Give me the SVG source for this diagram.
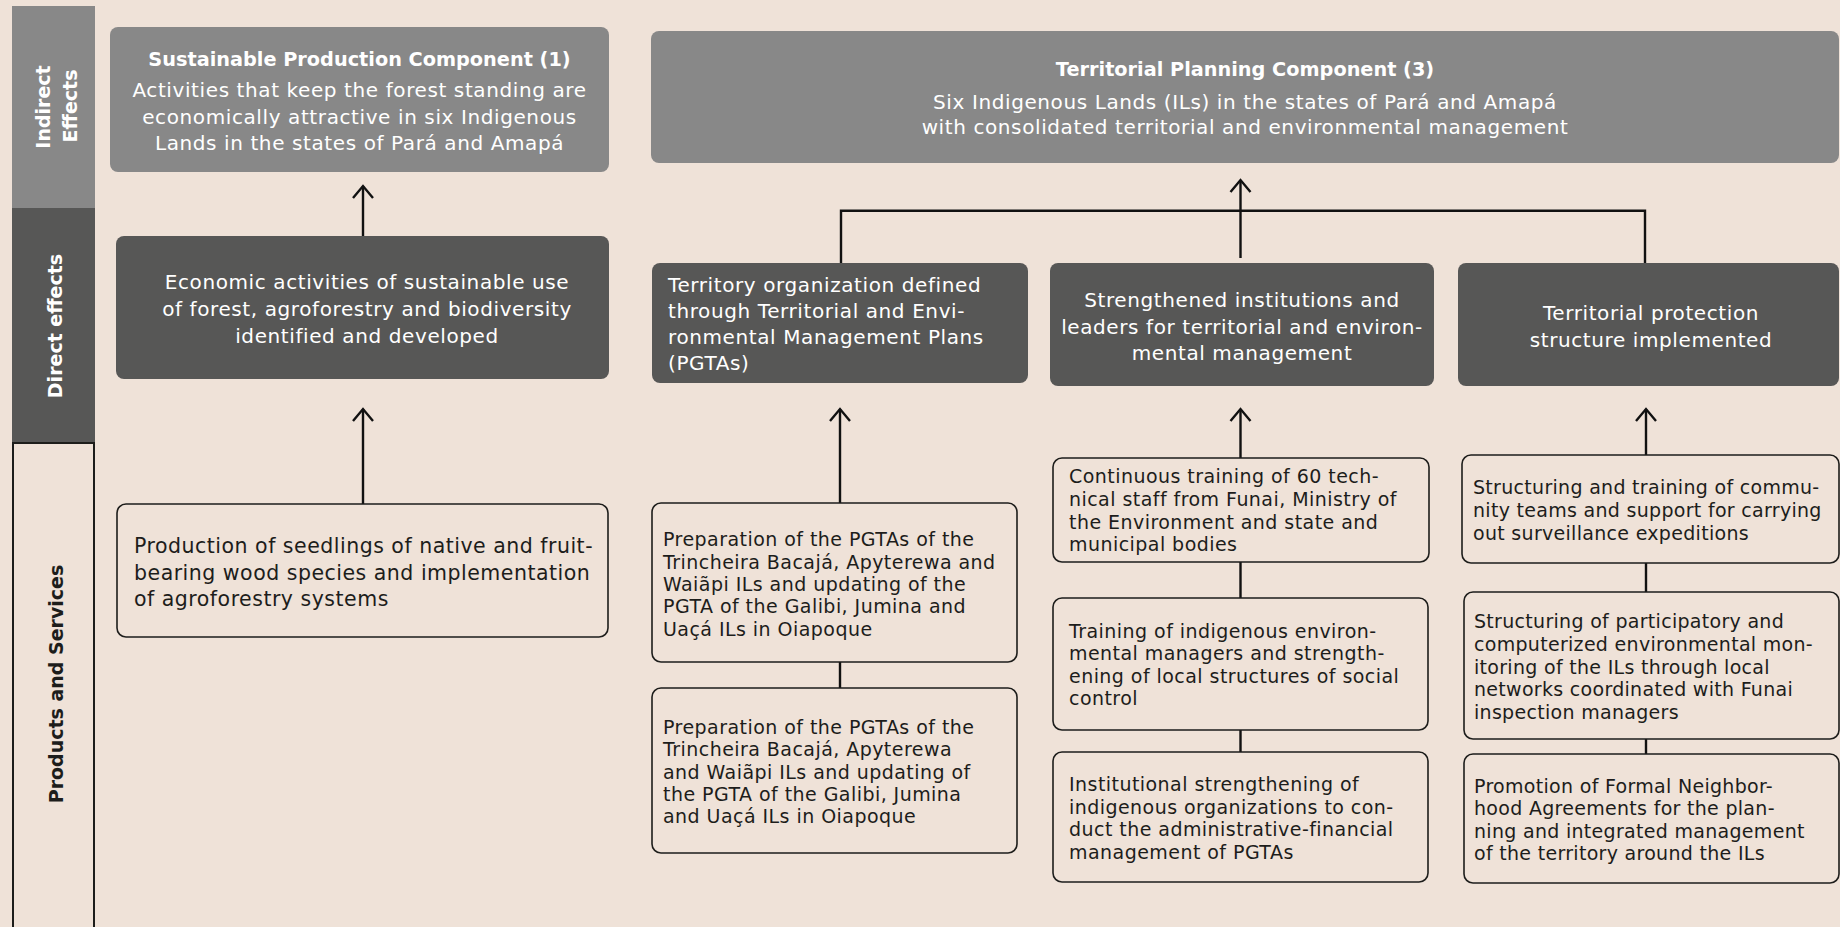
<svg xmlns="http://www.w3.org/2000/svg" width="1840" height="927" viewBox="0 0 1840 927">
  <style>
    .bg { fill: #efe2d8; }
    .light { fill: #888888; }
    .dark { fill: #575756; }
    .out { fill: #efe2d8; stroke: #1d1d1b; stroke-width: 1.6; }
    .band-label { font-family: "DejaVu Sans", sans-serif; font-weight: bold; font-size: 19px; text-anchor: middle; }
    .title { font-family: "DejaVu Sans", sans-serif; font-weight: bold; font-size: 19.3px; fill: #ffffff; text-anchor: middle; }
    .big { font-family: "DejaVu Sans", sans-serif; font-size: 20px; fill: #ffffff; letter-spacing: 0.6px; }
    .mid { text-anchor: middle; }
    .small { font-family: "DejaVu Sans", sans-serif; font-size: 19px; fill: #1d1d1b; letter-spacing: 0.45px; }
    .tight { letter-spacing: 0.3px; }
    .large { font-family: "DejaVu Sans", sans-serif; font-size: 20.5px; fill: #1d1d1b; letter-spacing: 0.5px; }
    .wire { fill: none; stroke: #111111; stroke-width: 2.4; }
    .arrow { fill: none; stroke: #111111; stroke-width: 2.4; marker-end: url(#head); }
  </style>
  <defs>
    <marker id="head" markerUnits="userSpaceOnUse" markerWidth="30" markerHeight="30" viewBox="-16 -15 20 30" refX="0" refY="0" orient="auto">
      <path d="M -12 -10 L 0 0 L -12 10" fill="none" stroke="#111111" stroke-width="2.4"/>
    </marker>
  </defs>

  <rect class="bg" x="0" y="0" width="1840" height="927"/>

  <!-- Row bands on the left -->
  <g id="band-indirect">
    <rect class="light" x="12" y="6" width="83" height="202"/>
    <text class="band-label" fill="#ffffff" transform="translate(50,107) rotate(-90)">Indirect</text>
    <text class="band-label" fill="#ffffff" transform="translate(77,106) rotate(-90)">Effects</text>
  </g>
  <g id="band-direct">
    <rect class="dark" x="12" y="208" width="83" height="235"/>
    <text class="band-label" fill="#ffffff" transform="translate(62,326) rotate(-90)">Direct effects</text>
  </g>
  <g id="band-products">
    <rect x="13" y="443" width="81" height="500" fill="none" stroke="#1d1d1b" stroke-width="2"/>
    <text class="band-label" fill="#1d1d1b" transform="translate(63,684) rotate(-90)">Products and Services</text>
  </g>

  <!-- Connectors -->
  <g id="connectors">
    <line class="arrow" x1="363" y1="236" x2="363" y2="186"/>
    <line class="arrow" x1="363" y1="504" x2="363" y2="409"/>
    <path class="wire" d="M 841 263 V 210.7 H 1645 V 263"/>
    <line class="arrow" x1="1240.5" y1="258" x2="1240.5" y2="180"/>
    <line class="arrow" x1="840" y1="503" x2="840" y2="409"/>
    <line class="arrow" x1="1240.5" y1="458" x2="1240.5" y2="409"/>
    <line class="arrow" x1="1646" y1="455" x2="1646" y2="409"/>
    <line class="wire" x1="840" y1="662" x2="840" y2="688"/>
    <line class="wire" x1="1240.5" y1="562" x2="1240.5" y2="598"/>
    <line class="wire" x1="1240.5" y1="730" x2="1240.5" y2="752"/>
    <line class="wire" x1="1646" y1="563" x2="1646" y2="592"/>
    <line class="wire" x1="1646" y1="739" x2="1646" y2="754"/>
  </g>

  <!-- Indirect effects -->
  <g id="sustainable-production">
    <rect class="light" x="110" y="27" width="499" height="145" rx="8"/>
    <text class="title" x="359.5" y="65.5">Sustainable Production Component (1)</text>
    <text class="big mid" x="359.5" y="97">Activities that keep the forest standing are</text>
    <text class="big mid" x="359.5" y="123.5">economically attractive in six Indigenous</text>
    <text class="big mid" x="359.5" y="150">Lands in the states of Pará and Amapá</text>
  </g>
  <g id="territorial-planning">
    <rect class="light" x="651" y="31" width="1188" height="132" rx="8"/>
    <text class="title" x="1245" y="76">Territorial Planning Component (3)</text>
    <text class="big mid" x="1245" y="108.5">Six Indigenous Lands (ILs) in the states of Pará and Amapá</text>
    <text class="big mid" x="1245" y="133.5">with consolidated territorial and environmental management</text>
  </g>

  <!-- Direct effects -->
  <g id="economic-activities">
    <rect class="dark" x="116" y="236" width="493" height="143" rx="8"/>
    <text class="big mid" x="367" y="289">Economic activities of sustainable use</text>
    <text class="big mid" x="367" y="316">of forest, agroforestry and biodiversity</text>
    <text class="big mid" x="367" y="343">identified and developed</text>
  </g>
  <g id="territory-organization">
    <rect class="dark" x="652" y="263" width="376" height="120" rx="8"/>
    <text class="big" x="668" y="292">Territory organization defined</text>
    <text class="big" x="668" y="318">through Territorial and Envi-</text>
    <text class="big" x="668" y="344">ronmental Management Plans</text>
    <text class="big" x="668" y="370">(PGTAs)</text>
  </g>
  <g id="strengthened-institutions">
    <rect class="dark" x="1050" y="263" width="384" height="123" rx="8"/>
    <text class="big mid" x="1242" y="307">Strengthened institutions and</text>
    <text class="big mid" x="1242" y="333.5">leaders for territorial and environ-</text>
    <text class="big mid" x="1242" y="360">mental management</text>
  </g>
  <g id="territorial-protection">
    <rect class="dark" x="1458" y="263" width="381" height="123" rx="8"/>
    <text class="big mid" x="1651" y="320">Territorial protection</text>
    <text class="big mid" x="1651" y="347">structure implemented</text>
  </g>

  <!-- Products and services -->
  <g id="seedlings">
    <rect class="out" x="117" y="504" width="491" height="133" rx="9"/>
    <text class="large" x="134" y="553">Production of seedlings of native and fruit-</text>
    <text class="large" x="134" y="580">bearing wood species and implementation</text>
    <text class="large" x="134" y="606">of agroforestry systems</text>
  </g>
  <g id="pgta-preparation-1">
    <rect class="out" x="652" y="503" width="365" height="159" rx="9"/>
    <text class="small" x="663" y="546">Preparation of the PGTAs of the</text>
    <text class="small" x="663" y="568.5">Trincheira Bacajá, Apyterewa and</text>
    <text class="small" x="663" y="591">Waiãpi ILs and updating of the</text>
    <text class="small" x="663" y="613">PGTA of the Galibi, Jumina and</text>
    <text class="small" x="663" y="635.5">Uaçá ILs in Oiapoque</text>
  </g>
  <g id="pgta-preparation-2">
    <rect class="out" x="652" y="688" width="365" height="165" rx="9"/>
    <text class="small" x="663" y="734">Preparation of the PGTAs of the</text>
    <text class="small" x="663" y="756">Trincheira Bacajá, Apyterewa</text>
    <text class="small" x="663" y="778.5">and Waiãpi ILs and updating of</text>
    <text class="small" x="663" y="800.5">the PGTA of the Galibi, Jumina</text>
    <text class="small" x="663" y="823">and Uaçá ILs in Oiapoque</text>
  </g>
  <g id="continuous-training">
    <rect class="out" x="1053" y="458" width="376" height="104" rx="9"/>
    <text class="small" x="1069" y="483">Continuous training of 60 tech-</text>
    <text class="small" x="1069" y="506">nical staff from Funai, Ministry of</text>
    <text class="small" x="1069" y="528.5">the Environment and state and</text>
    <text class="small" x="1069" y="551">municipal bodies</text>
  </g>
  <g id="indigenous-managers">
    <rect class="out" x="1053" y="598" width="375" height="132" rx="9"/>
    <text class="small" x="1069" y="637.5">Training of indigenous environ-</text>
    <text class="small" x="1069" y="660">mental managers and strength-</text>
    <text class="small" x="1069" y="683">ening of local structures of social</text>
    <text class="small" x="1069" y="705">control</text>
  </g>
  <g id="institutional-strengthening">
    <rect class="out" x="1053" y="752" width="375" height="130" rx="9"/>
    <text class="small" x="1069" y="791">Institutional strengthening of</text>
    <text class="small" x="1069" y="813.5">indigenous organizations to con-</text>
    <text class="small" x="1069" y="836">duct the administrative-financial</text>
    <text class="small" x="1069" y="858.5">management of PGTAs</text>
  </g>
  <g id="community-teams">
    <rect class="out" x="1462" y="455" width="377" height="108" rx="9"/>
    <text class="small tight" x="1473" y="494">Structuring and training of commu-</text>
    <text class="small tight" x="1473" y="517">nity teams and support for carrying</text>
    <text class="small tight" x="1473" y="539.5">out surveillance expeditions</text>
  </g>
  <g id="environmental-monitoring">
    <rect class="out" x="1464" y="592" width="375" height="147" rx="9"/>
    <text class="small tight" x="1474" y="628">Structuring of participatory and</text>
    <text class="small tight" x="1474" y="651">computerized environmental mon-</text>
    <text class="small tight" x="1474" y="673.5">itoring of the ILs through local</text>
    <text class="small tight" x="1474" y="696">networks coordinated with Funai</text>
    <text class="small tight" x="1474" y="718.5">inspection managers</text>
  </g>
  <g id="neighborhood-agreements">
    <rect class="out" x="1464" y="754" width="375" height="129" rx="9"/>
    <text class="small tight" x="1474" y="793">Promotion of Formal Neighbor-</text>
    <text class="small tight" x="1474" y="815">hood Agreements for the plan-</text>
    <text class="small tight" x="1474" y="837.5">ning and integrated management</text>
    <text class="small tight" x="1474" y="860">of the territory around the ILs</text>
  </g>
</svg>
